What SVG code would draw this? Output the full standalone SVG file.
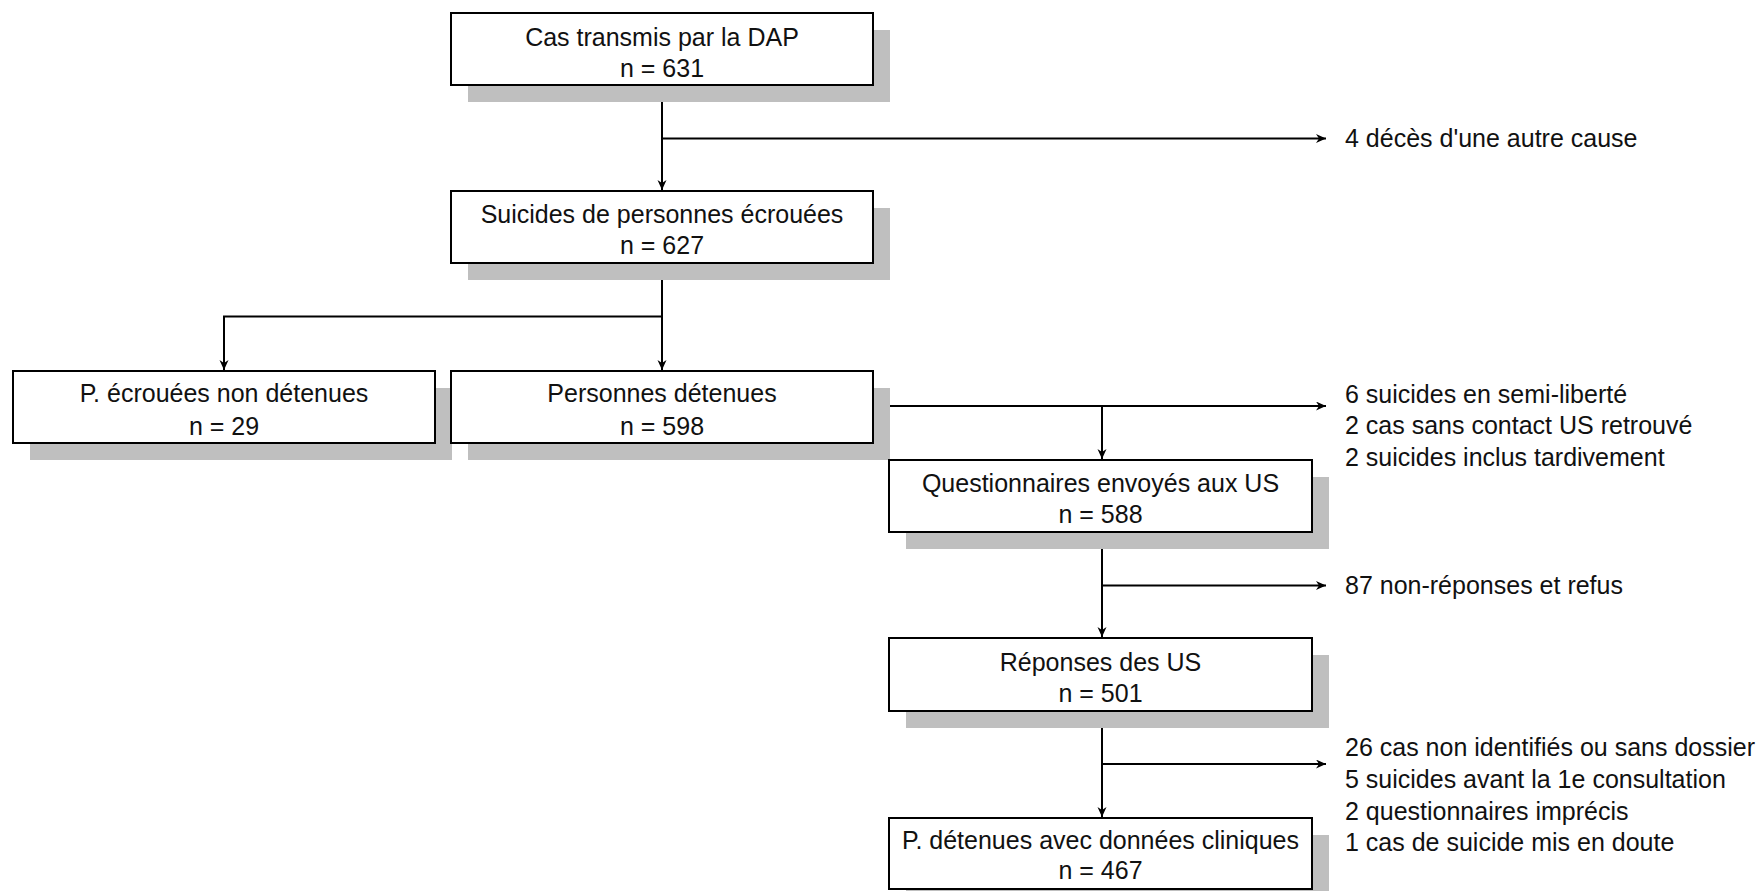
<svg xmlns="http://www.w3.org/2000/svg" width="1763" height="891" viewBox="0 0 1763 891">
<style>
.sh{fill:#bfbfbf;stroke:none}
.bx{fill:#fff;stroke:#000;stroke-width:2}
.t{font-family:"Liberation Sans",Arial,sans-serif;font-size:25px;fill:#111}
.c{text-anchor:middle}
.ln{fill:none;stroke:#000;stroke-width:2}
</style>
<defs>
<marker id="ah" markerUnits="userSpaceOnUse" markerWidth="12" markerHeight="10" refX="10" refY="4.5" orient="auto">
<path d="M0,0 L10,4.5 L0,9 L3,4.5 z" fill="#000"/>
</marker>
</defs>
<rect width="1763" height="891" fill="#fff"/>
<g id="connectors">
<line class="ln" x1="662" y1="85" x2="662" y2="190" marker-end="url(#ah)"/>
<line class="ln" x1="662" y1="138.5" x2="1326" y2="138.5" marker-end="url(#ah)"/>
<line class="ln" x1="662" y1="263" x2="662" y2="370" marker-end="url(#ah)"/>
<polyline class="ln" points="662,316.5 224,316.5 224,370" marker-end="url(#ah)"/>
<line class="ln" x1="873" y1="406" x2="1326" y2="406" marker-end="url(#ah)"/>
<line class="ln" x1="1102" y1="406" x2="1102" y2="459" marker-end="url(#ah)"/>
<line class="ln" x1="1102" y1="532" x2="1102" y2="637" marker-end="url(#ah)"/>
<line class="ln" x1="1102" y1="585.5" x2="1326" y2="585.5" marker-end="url(#ah)"/>
<line class="ln" x1="1102" y1="711" x2="1102" y2="817" marker-end="url(#ah)"/>
<line class="ln" x1="1102" y1="764" x2="1326" y2="764" marker-end="url(#ah)"/>
</g>
<g id="n1">
<rect class="sh" x="468" y="30" width="422" height="72"/>
<rect class="bx" x="451" y="13" width="422" height="72"/>
<text class="t c" x="662" y="45.5">Cas transmis par la DAP</text>
<text class="t c" x="662" y="76.5">n = 631</text>
</g>
<g id="n2">
<rect class="sh" x="468" y="208" width="422" height="72"/>
<rect class="bx" x="451" y="191" width="422" height="72"/>
<text class="t c" x="662" y="223">Suicides de personnes écrouées</text>
<text class="t c" x="662" y="254">n = 627</text>
</g>
<g id="n3">
<rect class="sh" x="30" y="388" width="422" height="72"/>
<rect class="bx" x="13" y="371" width="422" height="72"/>
<text class="t c" x="224" y="402">P. écrouées non détenues</text>
<text class="t c" x="224" y="434.5">n = 29</text>
</g>
<g id="n4">
<rect class="sh" x="468" y="388" width="422" height="72"/>
<rect class="bx" x="451" y="371" width="422" height="72"/>
<text class="t c" x="662" y="402">Personnes détenues</text>
<text class="t c" x="662" y="434.5">n = 598</text>
</g>
<g id="n5">
<rect class="sh" x="906" y="477" width="423" height="72"/>
<rect class="bx" x="889" y="460" width="423" height="72"/>
<text class="t c" x="1100.5" y="491.5">Questionnaires envoyés aux US</text>
<text class="t c" x="1100.5" y="522.5">n = 588</text>
</g>
<g id="n6">
<rect class="sh" x="906" y="655" width="423" height="73"/>
<rect class="bx" x="889" y="638" width="423" height="73"/>
<text class="t c" x="1100.5" y="670.5">Réponses des US</text>
<text class="t c" x="1100.5" y="701.5">n = 501</text>
</g>
<g id="n7">
<rect class="sh" x="906" y="835" width="423" height="71"/>
<rect class="bx" x="889" y="818" width="423" height="71"/>
<text class="t c" x="1100.5" y="848.5">P. détenues avec données cliniques</text>
<text class="t c" x="1100.5" y="878.5">n = 467</text>
</g>
<g id="e1">
<text class="t" x="1345" y="147">4 décès d'une autre cause</text>
</g>
<g id="e2">
<text class="t" x="1345" y="402.5">6 suicides en semi-liberté</text>
<text class="t" x="1345" y="434">2 cas sans contact US retrouvé</text>
<text class="t" x="1345" y="465.7">2 suicides inclus tardivement</text>
</g>
<g id="e3">
<text class="t" x="1345" y="594">87 non-réponses et refus</text>
</g>
<g id="e4">
<text class="t" x="1345" y="756">26 cas non identifiés ou sans dossier</text>
<text class="t" x="1345" y="787.8">5 suicides avant la 1e consultation</text>
<text class="t" x="1345" y="819.5">2 questionnaires imprécis</text>
<text class="t" x="1345" y="851.2">1 cas de suicide mis en doute</text>
</g>
</svg>
